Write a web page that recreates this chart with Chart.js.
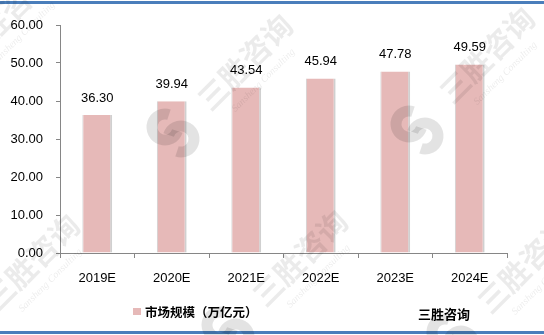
<!DOCTYPE html>
<html>
<head>
<meta charset="utf-8">
<script src="https://cdn.jsdelivr.net/npm/chart.js@4/dist/chart.umd.min.js"></script>
<style>
html,body{margin:0;padding:0;background:#fff;}
#wrap{position:relative;width:544px;height:335px;}
canvas{display:block;}
</style>
</head>
<body>
<div id="wrap"><canvas id="c" width="544" height="335"></canvas></div>
<script>
const categories = ['2019E','2020E','2021E','2022E','2023E','2024E'];
const marketSize = [36.30, 39.94, 43.54, 45.94, 47.78, 49.59];
const seriesName = '市场规模（万亿元）';
const sourceText = '三胜咨询';
const yTicks = [0, 10, 20, 30, 40, 50, 60];

const BAR_COLOR = '#E6B9B8';
const AXIS_COLOR = '#868686';
const FONT = '"Liberation Sans", Arial, sans-serif';
const CJK = '"Noto Sans CJK SC", sans-serif';

const frame = {
  id: 'frame',
  beforeDraw(chart) {
    const ctx = chart.ctx;
    ctx.save();
    ctx.fillStyle = '#fff';
    ctx.fillRect(0, 0, chart.width, chart.height);
    ctx.restore();
  },
  afterDraw(chart) {
    const ctx = chart.ctx;
    const ds = chart.getDatasetMeta(0);
    ctx.save();
    // data labels
    ctx.font = '13px ' + FONT;
    ctx.fillStyle = '#000';
    ctx.textAlign = 'center';
    ctx.textBaseline = 'middle';
    ds.data.forEach((bar, i) => {
      ctx.fillText(marketSize[i].toFixed(2), bar.x, bar.y - 17);
    });
    // legend
    ctx.fillStyle = BAR_COLOR;
    ctx.fillRect(133, 308, 8, 7);
    ctx.fillStyle = '#000';
    ctx.textAlign = 'left';
    ctx.font = 'bold 12.5px ' + CJK;
    ctx.fillText(seriesName, 145, 312);
    ctx.font = 'bold 13px ' + CJK;
    ctx.fillText(sourceText, 418, 314);
    // top and bottom rules
    ctx.fillStyle = '#4A7EBB';
    ctx.fillRect(0, 1, chart.width, 3);
    ctx.fillRect(0, 331, chart.width, 3);
    // watermarks
    const wm = (tx, ty, lx, ly) => {
      ctx.save();
      ctx.translate(tx, ty);
      ctx.rotate(-Math.PI / 4);
      ctx.fillStyle = 'rgba(0,0,0,0.08)';
      ctx.textAlign = 'center';
      ctx.font = 'bold 30px ' + CJK;
      ctx.fillText(sourceText, 0, 0);
      ctx.font = 'italic 10px "Liberation Serif", serif';
      ctx.fillText('Sansheng Consulting', 0, 26);
      ctx.restore();
      ctx.save();
      ctx.strokeStyle = 'rgba(0,0,0,0.11)';
      ctx.lineWidth = 11;
      ctx.beginPath();
      ctx.arc(lx - 8, ly - 6, 13, 0.1 * Math.PI, 1.6 * Math.PI);
      ctx.stroke();
      ctx.beginPath();
      ctx.arc(lx + 8, ly + 6, 13, 1.1 * Math.PI, 2.6 * Math.PI);
      ctx.stroke();
      ctx.restore();
    };
    wm(245, 62, 173, 133);
    wm(487, 55, 417, 130);
    wm(32, 262, -40, 333);
    wm(300, 258, 228, 331);
    wm(525, 265, 453, 338);
    wm(5, 15, -67, 86);
    ctx.restore();
  }
};

new Chart(document.getElementById('c'), {
  type: 'bar',
  data: {
    labels: categories,
    datasets: [{
      label: seriesName,
      data: marketSize,
      backgroundColor: BAR_COLOR,
      borderColor: '#D0D0D0',
      borderWidth: {left: 1, right: 2, top: 0, bottom: 0},
      borderSkipped: false,
      categoryPercentage: 1,
      barPercentage: 0.4
    }]
  },
  plugins: [frame],
  options: {
    responsive: false,
    animation: false,
    devicePixelRatio: 1,
    layout: {padding: {top: 25, left: 0, right: 37, bottom: 0}},
    plugins: {legend: {display: false}, tooltip: {enabled: false}},
    scales: {
      x: {
        offset: true,
        grid: {offset: true, drawOnChartArea: false, drawTicks: true, tickLength: 5, color: AXIS_COLOR},
        border: {display: true, color: AXIS_COLOR, width: 1},
        ticks: {font: {family: FONT, size: 13}, color: '#000', padding: 13, maxRotation: 0},
        afterFit(s) { s.height = 82; }
      },
      y: {
        min: 0, max: 60,
        afterBuildTicks(s) { s.ticks = yTicks.map(v => ({value: v})); },
        grid: {drawOnChartArea: false, drawTicks: true, tickLength: 4, color: AXIS_COLOR},
        border: {display: true, color: AXIS_COLOR, width: 1},
        ticks: {font: {family: FONT, size: 13}, color: '#000', padding: 13,
          callback: v => Number(v).toFixed(2)},
        afterFit(s) { s.width = 60; }
      }
    }
  }
});
</script>
</body>
</html>
